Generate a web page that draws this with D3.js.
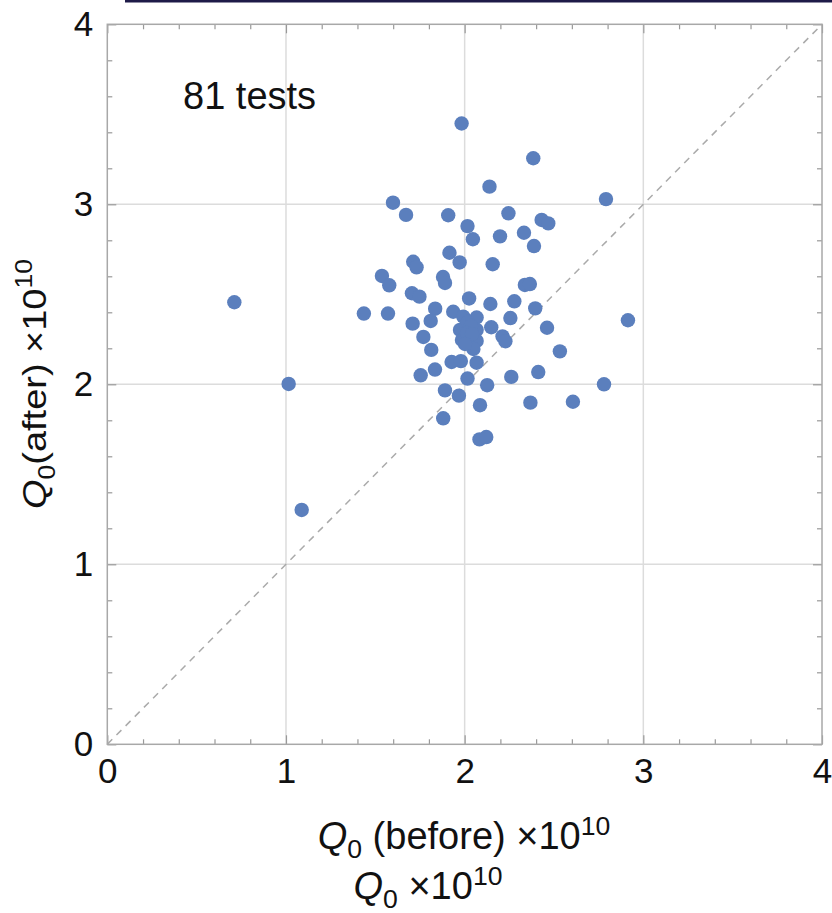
<!DOCTYPE html>
<html>
<head>
<meta charset="utf-8">
<script src="https://cdn.jsdelivr.net/npm/d3@7"></script>
<style>
  body { margin: 0; background: #fff; }
  svg text { font-family: "Liberation Sans", Arial, sans-serif; fill: #111; }
</style>
</head>
<body>
<svg id="canvas"></svg>
<script>
// Q0 before (x) and after (y), both in units of 1e10
let qBefore = [0.711, 1.015, 1.088, 1.983, 2.384, 2.139, 2.791, 1.599, 1.672, 1.908,
  2.245, 2.016, 2.046, 2.198, 2.431, 2.468, 2.332, 2.388, 1.915, 1.972,
  1.712, 1.731, 2.157, 1.537, 1.578, 1.879, 1.890, 2.337, 2.365, 1.705,
  1.747, 2.025, 2.144, 2.278, 2.395, 1.835, 1.936, 1.436, 1.571, 1.709,
  1.810, 1.769, 1.813, 2.256, 2.149, 2.212, 2.228, 2.461, 2.533, 2.914,
  1.992, 2.067, 1.974, 2.067, 2.020, 1.985, 2.067, 2.049, 1.927, 1.979,
  2.067, 1.754, 1.834, 2.016, 2.126, 2.261, 2.412, 1.890, 1.968, 2.086,
  2.368, 2.606, 2.780, 1.880, 2.083, 2.121, 2.018, 2.035, 2.013, 2.041, 2.002];
let qAfter = [2.456, 2.002, 1.302, 3.449, 3.256, 3.098, 3.029, 3.009, 2.941, 2.939,
  2.950, 2.879, 2.806, 2.822, 2.913, 2.894, 2.842, 2.768, 2.731, 2.677,
  2.681, 2.650, 2.667, 2.602, 2.550, 2.596, 2.563, 2.552, 2.557, 2.506,
  2.487, 2.477, 2.446, 2.461, 2.422, 2.420, 2.403, 2.393, 2.393, 2.337,
  2.352, 2.263, 2.191, 2.368, 2.317, 2.266, 2.239, 2.314, 2.183, 2.356,
  2.376, 2.371, 2.302, 2.302, 2.256, 2.246, 2.241, 2.196, 2.124, 2.129,
  2.120, 2.050, 2.082, 2.032, 1.995, 2.041, 2.068, 1.966, 1.937, 1.884,
  1.898, 1.903, 2.000, 1.811, 1.694, 1.707, 2.346, 2.324, 2.285, 2.279, 2.224];

let majorTicks = [0, 1, 2, 3, 4];
let minorTicks = [0.2, 0.4, 0.6, 0.8, 1.2, 1.4, 1.6, 1.8, 2.2, 2.4, 2.6, 2.8, 3.2, 3.4, 3.6, 3.8];
let gridTicks = [1, 2, 3];
let noteText = "81 tests";

let width = 832;
let height = 913;
let plotLeft = 107.3, plotRight = 822, plotTop = 24.3, plotBottom = 744.3;

let canvas = d3.select("#canvas")
  .attr("width", width)
  .attr("height", height);

let xScale = d3.scaleLinear().domain([0, 4]).range([plotLeft, plotRight]);
let yScale = d3.scaleLinear().domain([0, 4]).range([plotBottom, plotTop]);

// dark rule across the top edge
canvas.append("line")
  .attr("x1", 125).attr("x2", width)
  .attr("y1", 1).attr("y2", 1)
  .attr("stroke", "#1e1a48").attr("stroke-width", 3);

// grid
canvas.append("g").selectAll("line")
  .data(gridTicks).enter().append("line")
  .attr("x1", d => xScale(d)).attr("x2", d => xScale(d))
  .attr("y1", plotTop).attr("y2", plotBottom)
  .attr("stroke", "#dcdcdc").attr("stroke-width", 1.5);
canvas.append("g").selectAll("line")
  .data(gridTicks).enter().append("line")
  .attr("x1", plotLeft).attr("x2", plotRight)
  .attr("y1", d => yScale(d)).attr("y2", d => yScale(d))
  .attr("stroke", "#dcdcdc").attr("stroke-width", 1.5);

// axes, ticks pointing inward on all four sides
let drawAxis = (axisFn, scale, transform, showLabels) => {
  let gMinor = canvas.append("g").attr("transform", transform)
    .call(axisFn(scale).tickValues(minorTicks).tickSize(-5).tickFormat(""));
  let gMajor = canvas.append("g").attr("transform", transform)
    .call(axisFn(scale).tickValues(majorTicks).tickSize(-9).tickPadding(showLabels ? 14 : 0)
      .tickFormat(showLabels ? d3.format("d") : ""));
  [gMinor, gMajor].forEach(g => {
    g.select(".domain").remove();
    g.selectAll(".tick line").attr("stroke", "#999").attr("stroke-width", 1.2);
    g.selectAll(".tick text").style("font-size", "35px").attr("fill", "#111");
  });
};
drawAxis(d3.axisBottom, xScale, "translate(0," + plotBottom + ")", true);
drawAxis(d3.axisTop, xScale, "translate(0," + plotTop + ")", false);
drawAxis(d3.axisLeft, yScale, "translate(" + plotLeft + ",0)", true);
drawAxis(d3.axisRight, yScale, "translate(" + plotRight + ",0)", false);

// frame
canvas.append("rect")
  .attr("x", plotLeft).attr("y", plotTop)
  .attr("width", plotRight - plotLeft).attr("height", plotBottom - plotTop)
  .attr("fill", "none").attr("stroke", "#a8a8a8").attr("stroke-width", 1.5);

// y = x reference
canvas.append("line")
  .attr("x1", xScale(0)).attr("y1", yScale(0))
  .attr("x2", xScale(4)).attr("y2", yScale(4))
  .attr("stroke", "#aaa").attr("stroke-width", 1.5)
  .attr("stroke-dasharray", "7,6");

// points
canvas.append("g").selectAll("circle")
  .data(qBefore.map((d, i) => ({ x: d, y: qAfter[i] })))
  .enter().append("circle")
  .attr("cx", d => xScale(d.x))
  .attr("cy", d => yScale(d.y))
  .attr("r", 7.2)
  .attr("fill", "#5b7fbd");

canvas.append("text")
  .attr("x", 183).attr("y", 109)
  .style("font-size", "38px")
  .text(noteText);

// axis titles
let qLabel = (sel, rest) => {
  sel.append("tspan").style("font-style", "italic").text("Q");
  sel.append("tspan").attr("dy", 9).style("font-size", "0.7em").text("0");
  sel.append("tspan").attr("dy", -9).text(rest);
  sel.append("tspan").attr("dy", -14).style("font-size", "0.7em").text("10");
};

let xt1 = canvas.append("text")
  .attr("x", 464).attr("y", 849)
  .attr("text-anchor", "middle")
  .style("font-size", "38px");
qLabel(xt1, " (before) \u00d710");

let xt2 = canvas.append("text")
  .attr("x", 428).attr("y", 899)
  .attr("text-anchor", "middle")
  .style("font-size", "38px");
qLabel(xt2, " \u00d710");

let yt = canvas.append("text")
  .attr("transform", "translate(46,384) rotate(-90) scale(1.15,1)")
  .attr("text-anchor", "middle")
  .style("font-size", "33px");
qLabel(yt, "(after) \u00d710");
</script>
</body>
</html>
